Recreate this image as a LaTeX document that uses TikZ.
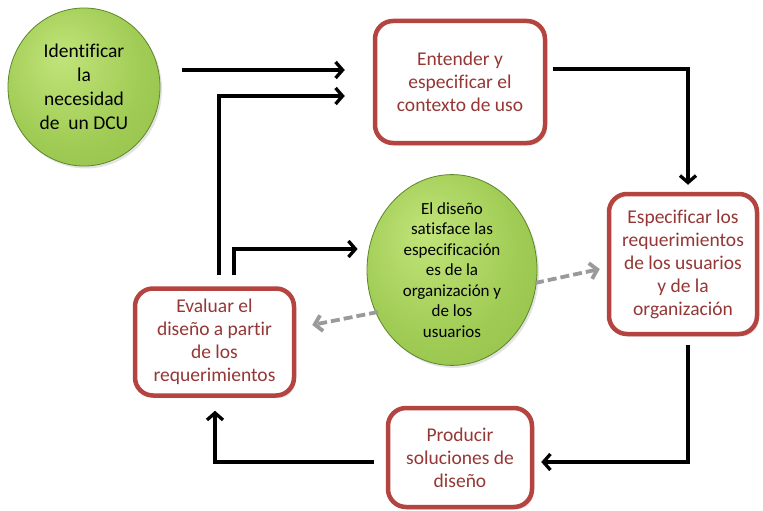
\documentclass[tikz,border=0pt]{standalone}
\usepackage{fontspec}
\setmainfont{Carlito}[Ligatures=NoCommon]
\usetikzlibrary{arrows.meta,shapes.geometric,calc,shadows}
\definecolor{redtext}{HTML}{953735}
\definecolor{redline}{HTML}{B4443F}
\definecolor{gA}{HTML}{C2E47A}
\definecolor{gB}{HTML}{A0CC55}
\definecolor{gC}{HTML}{6E9E30}
\definecolor{dgray}{HTML}{9A9A9A}
\pgfdeclareradialshading{greenball}{\pgfpoint{-8bp}{10bp}}{color(0bp)=(gA); color(24bp)=(gB); color(44bp)=(gB!70!gC); color(58bp)=(gC)}
\begin{document}
\begin{tikzpicture}[x=1pt,y=-1pt,
  box/.style={draw=redline, line width=4.5pt, rounded corners=18pt, fill=white,
    text=redtext, align=center, inner sep=0pt,
    font=\fontsize{19.5}{23}\selectfont,
    drop shadow={opacity=0.22, shadow xshift=2pt, shadow yshift=-2.5pt}},
  blob/.style={ellipse, shade, shading=greenball, draw=gC!85!black, line width=0.8pt,
    align=center, text=black, inner sep=0pt,
    drop shadow={opacity=0.22, shadow xshift=2pt, shadow yshift=-2.5pt}},
  arr/.style={line width=3.3pt, black, -{Straight Barb[length=7pt,width=16pt]}},
  darr/.style={line width=3.8pt, dgray, dash pattern=on 9pt off 4pt,
    -{Straight Barb[length=7pt,width=16pt]}}
]
\fill[white] (0,0) rectangle (763,511);
\useasboundingbox (0,0) rectangle (763,511);

\node[blob, minimum width=152pt, minimum height=158pt,
  font=\fontsize{19.5}{24}\selectfont] (c1) at (84,87)
  {Identificar\\la\\necesidad\\de\ \ un DCU};

\node[box, minimum width=170pt, minimum height=122pt] (e) at (460,82)
  {Entender y\\especificar el\\contexto de uso};

\node[box, minimum width=148pt, minimum height=140pt] (s) at (683,264)
  {Especificar los\\requerimientos\\de los usuarios\\y de la\\organización};

\node[box, minimum width=144pt, minimum height=99pt] (p) at (460,457.5)
  {Producir\\soluciones de\\diseño};

\node[box, minimum width=159pt, minimum height=107pt] (v) at (214.5,342)
  {Evaluar el\\diseño a partir\\de los\\requerimientos};

\node[blob, minimum width=170pt, minimum height=166pt,
  font=\fontsize{17}{20.5}\selectfont] (c2) at (452,270)
  {El diseño\\satisface las\\especificación\\es de la\\organización y\\de los\\usuarios};

% connectors
\draw[arr] ($(c1.east)+(22,-17)$) -- ($(e.west)+(-28,-12)$);
\draw[arr] ($(v.north)+(4.5,-11)$) |- ($(e.west)+(-28,14)$);
\draw[arr] ($(e.east)+(6,-13)$) -| ($(s.north)+(5,-7)$);
\draw[arr] ($(s.south)+(5,9)$) |- ($(p.east)+(7,4.5)$);
\draw[arr] ($(p.west)+(-12,4.5)$) -| ($(v.south)+(0.5,13)$);
\draw[arr] ($(v.north)+(19.5,-11)$) |- ($(c2.west)+(-9,-21)$);
\draw[darr] ($(c2.center)+(83,13)$) -- ($(s.west)+(-7,5)$);
\draw[darr] ($(c2.center)+(-74,42)$) -- ($(v.east)+(16,-17)$);
\end{tikzpicture}
\end{document}
